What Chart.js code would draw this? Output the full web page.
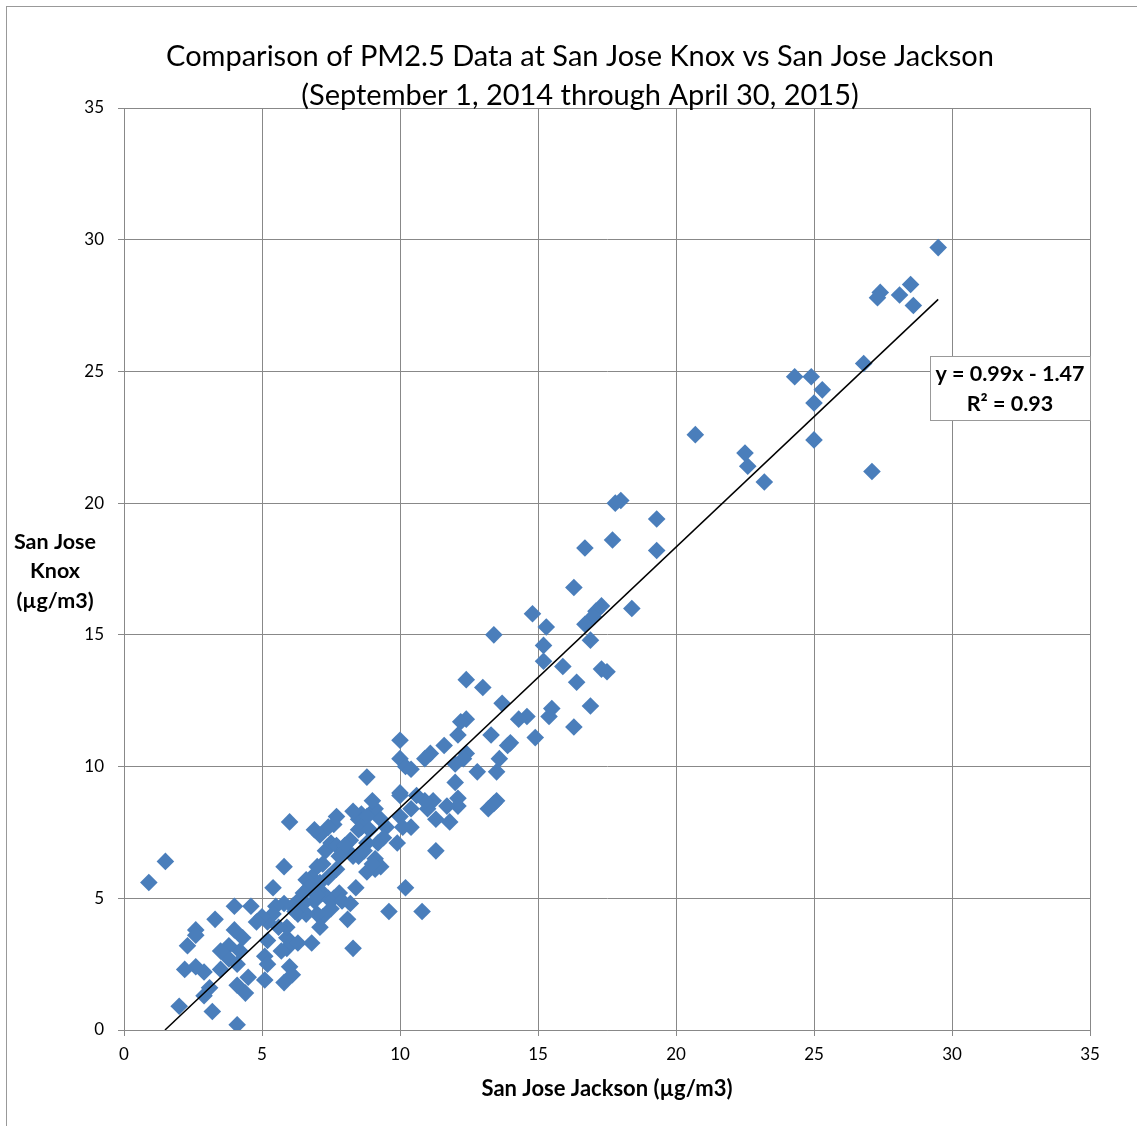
<!DOCTYPE html>
<html>
<head>
<meta charset="utf-8">
<script src="https://cdn.jsdelivr.net/npm/chart.js@4"></script>
<style>
  html, body { margin: 0; padding: 0; background: #fff; }
  #wrap { width: 1137px; height: 1126px; position: relative; }
</style>
</head>
<body>
<div id="wrap"><canvas id="c" width="1137" height="1126"></canvas></div>
<script>
// San Jose Jackson (x) vs San Jose Knox (y), ug/m3
let jackson = [29.5, 28.5, 28.6, 28.1, 27.4, 27.3, 26.8, 25.3, 24.9, 24.3, 25.0, 25.0, 27.1, 23.2, 22.6, 22.5, 20.7, 18.0, 17.8, 19.3,
   19.3, 17.7, 16.7, 16.3, 18.4, 17.3, 17.1, 17.0, 16.7, 16.9, 17.3, 17.5, 15.9, 16.4, 16.9, 16.3, 14.8, 15.3, 15.2, 15.2,
   13.4, 15.5, 15.4, 14.9, 14.6, 14.3, 13.7, 13.0, 12.4, 12.4, 12.2, 11.6, 12.1, 13.3, 14.0, 13.9, 13.6, 13.5, 13.5, 13.4,
   13.2, 12.8, 12.4, 12.3, 12.0, 12.0, 12.1, 12.1, 11.7, 11.8, 11.3, 11.2, 11.0, 10.9, 11.3, 11.1, 10.9, 10.6, 10.4, 10.4,
   10.0, 10.0, 10.2, 10.4, 10.0, 10.0, 10.0, 9.9, 9.5, 10.1, 10.8, 10.2, 9.6, 8.8, 9.1, 9.0, 9.4, 9.2, 9.1, 9.3,
   9.1, 8.8, 8.6, 8.5, 8.3, 8.8, 8.6, 8.5, 8.2, 8.3, 8.5, 7.9, 8.8, 8.3, 8.1, 8.4, 7.7, 7.6, 7.4, 7.1,
   6.9, 6.0, 7.3, 7.5, 7.7, 7.7, 7.2, 7.0, 6.8, 7.1, 7.4, 6.6, 6.7, 6.4, 7.2, 7.4, 7.6, 7.8, 7.9, 8.2,
   7.5, 7.2, 7.0, 7.1, 6.8, 6.6, 6.3, 6.1, 5.8, 5.8, 5.9, 5.9, 6.0, 6.1, 5.8, 6.3, 5.9, 5.5, 5.4, 5.4,
   5.2, 5.0, 4.8, 4.6, 5.2, 5.1, 5.2, 5.1, 4.3, 4.2, 4.5, 4.4, 4.1, 4.1, 4.1, 4.0, 4.0, 3.8, 3.8, 3.5,
   3.5, 3.3, 3.1, 3.2, 2.9, 2.6, 2.6, 2.6, 2.3, 2.2, 2.0, 1.5, 0.9, 2.9, 6.5, 6.9, 7.0, 6.2, 5.6, 5.7,
   8.0, 8.7, 9.0, 6.5, 9.3, 8.9, 8.0, 7.8]
let knox = [29.7, 28.3, 27.5, 27.9, 28.0, 27.8, 25.3, 24.3, 24.8, 24.8, 23.8, 22.4, 21.2, 20.8, 21.4, 21.9, 22.6, 20.1, 20.0, 19.4,
   18.2, 18.6, 18.3, 16.8, 16.0, 16.1, 15.9, 15.7, 15.4, 14.8, 13.7, 13.6, 13.8, 13.2, 12.3, 11.5, 15.8, 15.3, 14.6, 14.0,
   15.0, 12.2, 11.9, 11.1, 11.9, 11.8, 12.4, 13.0, 13.3, 11.8, 11.7, 10.8, 11.2, 11.2, 10.9, 10.8, 10.3, 9.8, 8.7, 8.6,
   8.4, 9.8, 10.5, 10.3, 10.1, 9.4, 8.8, 8.5, 8.5, 7.9, 8.0, 8.7, 8.4, 8.7, 6.8, 10.5, 10.3, 8.9, 8.4, 7.7,
   11.0, 10.3, 10.0, 9.9, 9.0, 8.9, 8.1, 7.1, 7.7, 7.7, 4.5, 5.4, 4.5, 9.6, 8.4, 8.7, 7.3, 7.1, 6.5, 6.2,
   6.1, 6.0, 8.2, 8.0, 8.3, 8.1, 7.7, 7.6, 7.2, 6.6, 6.6, 6.8, 7.1, 3.1, 4.2, 5.4, 8.1, 7.8, 7.7, 7.4,
   7.6, 7.9, 6.8, 7.1, 7.0, 6.1, 6.3, 6.2, 5.8, 5.6, 5.8, 5.7, 5.4, 5.0, 5.2, 5.0, 5.0, 5.2, 4.9, 4.8,
   4.6, 4.3, 4.4, 3.9, 3.3, 4.4, 4.4, 4.7, 6.2, 4.8, 3.5, 3.1, 2.4, 2.1, 1.8, 3.3, 3.9, 4.7, 5.4, 4.4,
   4.1, 4.3, 4.1, 4.7, 3.4, 2.8, 2.5, 1.9, 3.5, 3.0, 2.0, 1.4, 2.5, 1.7, 0.2, 4.7, 3.8, 3.2, 2.7, 2.3,
   3.0, 4.2, 1.6, 0.7, 2.2, 3.8, 3.6, 2.4, 3.2, 2.3, 0.9, 6.4, 5.6, 1.3, 5.2, 4.9, 5.1, 4.5, 3.9, 3.0,
   6.9, 6.8, 6.3, 4.8, 8.0, 7.6, 7.0, 6.6]

// linear trendline shown on the chart
let slope = 0.99
let intercept = -1.47
let trendX = [-intercept / slope, 29.5]

let titleLines = ['Comparison of PM2.5 Data at San Jose Knox vs San Jose Jackson', '(September 1, 2014 through April 30, 2015)']
let yTitleLines = ['San Jose', 'Knox', '(\u00b5g/m3)']
let xTitle = 'San Jose Jackson (\u00b5g/m3)'
let eqLines = ['y = 0.99x - 1.47', 'R\u00b2 = 0.93']

let points = jackson.map((x, i) => ({ x: x, y: knox[i] }))
let trend = trendX.map(x => ({ x: x, y: slope * x + intercept }))

const FONT = 'Lato, "Open Sans", sans-serif'
const GRID = '#888888'

const extras = {
   id: 'extras',
   beforeDraw(chart) {
      let ctx = chart.ctx
      ctx.save()
      ctx.fillStyle = '#fff'
      ctx.fillRect(0, 0, chart.width, chart.height)
      ctx.strokeStyle = '#999'
      ctx.lineWidth = 1
      ctx.strokeRect(6.5, 6.5, chart.width + 10, chart.height + 10)
      ctx.restore()
   },
   afterDraw(chart) {
      let ctx = chart.ctx
      ctx.save()
      ctx.fillStyle = '#000'
      ctx.textAlign = 'center'
      ctx.textBaseline = 'middle'

      // main title
      ctx.font = '29px ' + FONT
      ctx.fillText(titleLines[0], 580, 57)
      ctx.fillText(titleLines[1], 580, 96)

      // y axis title, horizontal
      ctx.font = 'bold 21.5px ' + FONT
      yTitleLines.forEach((t, i) => ctx.fillText(t, 55, 542 + i * 29.5))

      // equation box
      let bx = 930, by = 356, bw = 160, bh = 64
      ctx.fillStyle = '#fff'
      ctx.fillRect(bx, by, bw, bh)
      ctx.strokeStyle = '#999'
      ctx.strokeRect(bx + 0.5, by + 0.5, bw, bh)
      ctx.fillStyle = '#000'
      ctx.font = 'bold 21.5px ' + FONT
      ctx.fillText(eqLines[0], bx + bw / 2, by + 18)
      ctx.fillText(eqLines[1], bx + bw / 2, by + 48)
      ctx.restore()
   }
}

const ctx = document.getElementById('c').getContext('2d')
const myChart = new Chart(ctx, {
   type: 'scatter',
   data: {
      datasets: [{
         label: 'Knox vs Jackson',
         data: points,
         backgroundColor: '#4A7EBB',
         borderColor: '#4A7EBB',
         borderWidth: 0,
         pointStyle: 'rectRot',
         pointRadius: 8.8,
         pointHoverRadius: 8.8,
         order: 2
      }, {
         type: 'line',
         label: 'Linear',
         data: trend,
         borderColor: '#000',
         borderWidth: 1.5,
         pointRadius: 0,
         fill: false,
         order: 1
      }]
   },
   options: {
      responsive: false,
      animation: false,
      events: [],
      layout: { padding: { top: 108, right: 47, left: 0, bottom: 0 } },
      plugins: {
         legend: { display: false },
         tooltip: { enabled: false }
      },
      scales: {
         x: {
            type: 'linear',
            min: 0,
            max: 35,
            ticks: { stepSize: 5, color: '#000', font: { family: FONT, size: 17 }, padding: 8 },
            grid: { color: GRID, tickLength: 6, lineWidth: 1 },
            border: { color: GRID },
            title: {
               display: true,
               text: xTitle,
               color: '#000',
               font: { family: FONT, size: 22, weight: 'bold' },
               padding: { top: 12, bottom: 24 }
            },
            afterFit: (scale) => { scale.height = 96 }
         },
         y: {
            type: 'linear',
            min: 0,
            max: 35,
            ticks: { stepSize: 5, color: '#000', font: { family: FONT, size: 17 }, padding: 14 },
            grid: { color: GRID, tickLength: 6, lineWidth: 1 },
            border: { color: GRID },
            afterFit: (scale) => { scale.width = 124 }
         }
      }
   },
   plugins: [extras]
})
</script>
</body>
</html>
